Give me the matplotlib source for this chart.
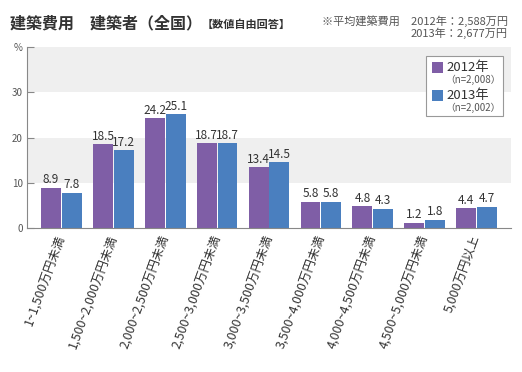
import numpy as np
import matplotlib
matplotlib.use("Agg")
import matplotlib.pyplot as plt
from matplotlib.patches import Rectangle

plt.rcParams['font.family'] = ['Noto Sans CJK JP', 'DejaVu Sans']

categories = ["1~1,500万円未満", "1,500~2,000万円未満", "2,000~2,500万円未満",
              "2,500~3,000万円未満", "3,000~3,500万円未満", "3,500~4,000万円未満",
              "4,000~4,500万円未満", "4,500~5,000万円未満", "5,000万円以上"]
v2012 = [8.9, 18.5, 24.2, 18.7, 13.4, 5.8, 4.8, 1.2, 4.4]
v2013 = [7.8, 17.2, 25.1, 18.7, 14.5, 5.8, 4.3, 1.8, 4.7]
series = ["2012年", "2013年"]
n_labels = ["（n=2,008）", "（n=2,002）"]
yticks = [0, 10, 20, 30, 40]
ytick_labels = ["0", "10", "20", "30", "%"]

purple = "#7f5ea6"
blue = "#4a7fbf"
W, H = 522, 372

def fx(x):
    return x / W

def fy(y):
    return 1 - y / H

fig = plt.figure(figsize=(W / 100, H / 100), dpi=100)
ax = fig.add_axes([fx(27), fy(228), (511 - 27) / W, (228 - 47) / H])

# background bands
ax.axhspan(10, 20, color="#efefef", zorder=0, lw=0)
ax.axhspan(30, 40, color="#efefef", zorder=0, lw=0)

x = np.arange(len(categories))
bw = 0.385
b1 = ax.bar(x - 0.2, v2012, bw, color=purple, zorder=2)
b2 = ax.bar(x + 0.2, v2013, bw, color=blue, zorder=2)
for bars, vals in [(b1, v2012), (b2, v2013)]:
    for b, v in zip(bars, vals):
        ax.annotate(f"{v}", (b.get_x() + b.get_width() / 2, v), xytext=(0, 1),
                    textcoords="offset points", ha="center", va="bottom",
                    fontsize=8.5, color="#333333")

ax.set_xlim(-0.665, 8.665)
ax.set_ylim(0, 40)
ax.set_yticks(yticks)
ax.set_yticklabels(ytick_labels)
ax.tick_params(axis="y", direction="in", length=5, width=0.8, color="#888888",
               labelsize=7, labelcolor="#555555", pad=3)
ax.set_xticks(x)
ax.set_xticklabels(categories, rotation=70, ha="right", va="center",
                   rotation_mode="anchor", fontsize=9, color="#333333")
ax.tick_params(axis="x", length=0, pad=5)
for s in ["top", "right"]:
    ax.spines[s].set_visible(False)
for s in ["left", "bottom"]:
    ax.spines[s].set_color("#888888")
    ax.spines[s].set_linewidth(0.8)

# title
t = fig.text(fx(10), fy(28), "建築費用　建築者（全国）", fontsize=11.5,
             fontweight="bold", color="#333333", va="baseline")
ax.annotate("【数値自由回答】", xy=(1, 0), xycoords=t, va="bottom", ha="left",
            fontsize=8, fontweight="bold", color="#333333")
fig.text(fx(508), fy(25), "※平均建築費用　2012年：2,588万円", fontsize=8,
         color="#555555", ha="right", va="baseline")
fig.text(fx(508), fy(37), "2013年：2,677万円", fontsize=8,
         color="#555555", ha="right", va="baseline")

# legend
fig.add_artist(Rectangle((fx(426), fy(116)), (503 - 426) / W, (116 - 56) / H,
                         transform=fig.transFigure, fc="white", ec="#999999", lw=0.8))
for i, (name, nl, col) in enumerate(zip(series, n_labels, [purple, blue])):
    y0 = 67.5 + i * 28
    fig.add_artist(Rectangle((fx(432), fy(y0 + 5.5)), 11 / W, 11 / H,
                             transform=fig.transFigure, fc=col, ec="none"))
    fig.text(fx(446), fy(y0), name, fontsize=9.5, color="#333333", va="center")
    fig.text(fx(445), fy(y0 + 12), nl, fontsize=7, color="#555555", va="center")

fig.savefig("out.png", dpi=100)
